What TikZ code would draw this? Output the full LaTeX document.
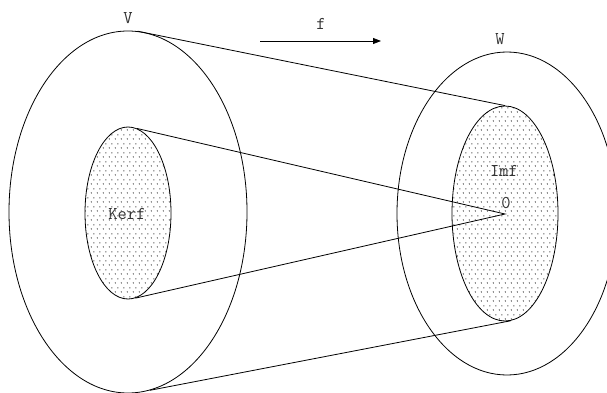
\documentclass[tikz,border=0pt]{standalone}
\usetikzlibrary{shapes.geometric,arrows.meta,patterns.meta}
\tikzdeclarepattern{
  name=finedots,
  type=uncolored,
  bottom left={(0pt,0pt)},
  top right={(6pt,9pt)},
  tile size={(6pt,9pt)},
  code={\fill (1.5pt,2.25pt) circle (0.65pt); \fill (4.5pt,6.75pt) circle (0.65pt);}
}
\tikzset{
  region/.style={ellipse, draw, inner sep=0pt, line width=0.8pt},
  dotregion/.style={region, pattern=finedots, pattern color=black},
  lbl/.style={font=\ttfamily\fontsize{18}{20}\selectfont, text=black!80, inner sep=0pt},
}
\begin{document}
\begin{tikzpicture}[x=1pt,y=-1pt,line width=0.8pt]
\useasboundingbox (0,0) rectangle (607,393);
\node[region, minimum width=238pt, minimum height=362pt] (V) at (128,212) {};
\node[region, minimum width=220pt, minimum height=323pt] (W) at (507,213.5) {};
\node[dotregion, minimum width=86pt, minimum height=172pt] (Ker) at (128,213) {};
\node[dotregion, minimum width=106pt, minimum height=215pt] (Im) at (505,213.5) {};
\coordinate (O) at (505,214);
\draw (V.87) -- (Im.north);
\draw (V.-83) -- (Im.-87);
\draw (Ker.84) -- (O) -- (Ker.-85);
\coordinate (fs) at (260,41);
\coordinate (fe) at (381,41);
\draw[-{Triangle[length=8pt,width=6pt]}] (fs) -- (fe);
\node[lbl] (lV) at (128,18) {V};
\node[lbl] (lW) at (500,39) {W};
\node[lbl] (lf) at (321,24) {f};
\node[lbl] (lK) at (127,214) {Kerf};
\node[lbl] (lI) at (504,171) {Imf};
\node[lbl] (l0) at (506,203) {0};
\end{tikzpicture}
\end{document}
